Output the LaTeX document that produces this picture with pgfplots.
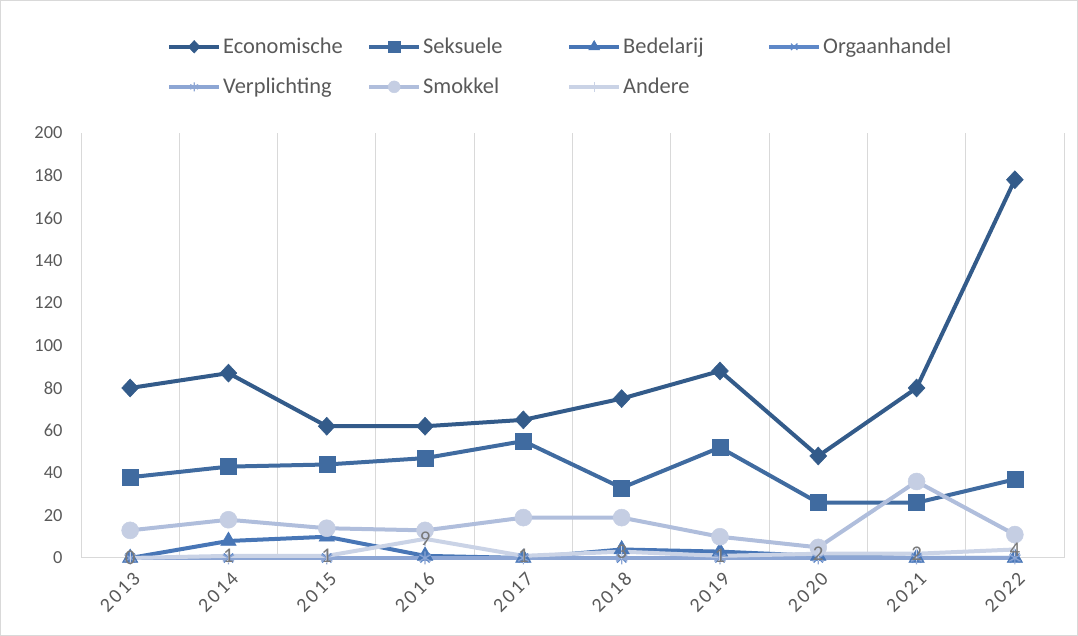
\documentclass[border=0pt]{standalone}
\usepackage{pgfplots}
\pgfplotsset{compat=1.18}
\usepackage{fontspec}
\setmainfont{Carlito}
\newfontfamily\spaced[LetterSpace=12]{Carlito}
\definecolor{cEco}{HTML}{335B8A}
\definecolor{cSek}{HTML}{406BA0}
\definecolor{cBed}{HTML}{4876B6}
\definecolor{cOrg}{HTML}{5E88C8}
\definecolor{cVer}{HTML}{8DA6D4}
\definecolor{cSmo}{HTML}{B0BEDC}
\definecolor{cSmoF}{HTML}{C5CEE3}
\definecolor{cAnd}{HTML}{CAD3E6}
\definecolor{cGrid}{HTML}{D9D9D9}
\definecolor{cTxt}{HTML}{595959}
\begin{document}
\begin{tikzpicture}[x=1bp,y=1bp]
\useasboundingbox (0,0) rectangle (1078,636);
\draw[cGrid,line width=0.8bp] (0.5,0.5) rectangle (1077.5,635.5);
\begin{axis}[
  at={(81bp,78bp)}, anchor=south west,
  scale only axis, width=983bp, height=425bp,
  xmin=-0.5, xmax=9.5, ymin=0, ymax=200,
  xtick={0,...,9},
  xticklabels={2013,2014,2015,2016,2017,2018,2019,2020,2021,2022},
  minor xtick={-0.5,0.5,...,9.5},
  xminorgrids, minor grid style={cGrid,line width=1bp},
  ytick={0,20,...,200},
  axis x line*=bottom, axis y line*=left,
  x axis line style={cGrid,line width=1bp,-},
  y axis line style={draw=none},
  major tick length=0pt, minor tick length=0pt,
  tick style={draw=none},
  /pgf/number format/assume math mode=true,
  yticklabel style={font=\fontsize{18.5}{20}\selectfont, text=cTxt, anchor=east, xshift=-15bp},
  xticklabel style={font=\spaced\fontsize{20}{22}\selectfont, text=cTxt, xshift=9bp, yshift=-15bp, rotate=45, anchor=east},
  legend columns=4,
  legend style={at={(0.0875,1.228)}, anchor=north west, draw=none, fill=none,
    font=\fontsize{22.5}{26}\selectfont, text=cTxt,
    /tikz/every even column/.append style={column sep=0pt},
    row sep=19bp, inner sep=0pt, cells={anchor=west}},
  legend image code/.code={
    \draw[#1,mark=none] (0bp,0bp) -- (50bp,0bp);
    \draw[#1,only marks,every mark/.append style={scale=0.7}] plot coordinates {(25bp,0bp)};
  },
  every axis plot/.append style={line width=4bp},
  clip=false,
]
\addplot[cEco, mark=diamond*, mark size=9bp, mark options={fill=cEco,line width=0.5bp,xscale=1.25}] coordinates {
(0,80)(1,87)(2,62)(3,62)(4,65)(5,75)(6,88)(7,48)(8,80)(9,178)};
\addlegendentry{\makebox[142bp][l]{Economische}}
\addplot[cSek, mark=square*, mark size=8bp, mark options={fill=cSek,line width=0.5bp}] coordinates {
(0,38)(1,43)(2,44)(3,47)(4,55)(5,33)(6,52)(7,26)(8,26)(9,37)};
\addlegendentry{\makebox[142bp][l]{Seksuele}}
\addplot[cBed, mark=triangle*, mark size=9bp, mark options={fill=cBed,line width=0.5bp}] coordinates {
(0,0)(1,8)(2,10)(3,1)(4,0)(5,4)(6,3)(7,1)(8,0)(9,0)};
\addlegendentry{\makebox[142bp][l]{Bedelarij}}
\addplot[cOrg, mark=x, mark size=6.5bp, mark options={line width=1.2bp}] coordinates {
(0,0)(1,0)(2,0)(3,0)(4,0)(5,0)(6,0)(7,0)(8,0)(9,0)};
\addlegendentry{\makebox[142bp][l]{Orgaanhandel}}
\addplot[cVer, mark=asterisk, mark size=6.5bp, mark options={line width=1.2bp}] coordinates {
(0,0)(1,0)(2,0)(3,0)(4,0)(5,0)(6,0)(7,0)(8,0)(9,0)};
\addlegendentry{\makebox[142bp][l]{Verplichting}}
\addplot[cSmo, mark=*, mark size=8.5bp, mark options={fill=cSmoF,draw=cSmoF,line width=0.5bp}] coordinates {
(0,13)(1,18)(2,14)(3,13)(4,19)(5,19)(6,10)(7,5)(8,36)(9,11)};
\addlegendentry{\makebox[142bp][l]{Smokkel}}
\addplot[cAnd, mark=|, mark size=7bp, mark options={line width=1.2bp},
  nodes near coords, point meta=explicit symbolic,
  every node near coord/.append style={anchor=center, yshift=0bp, text=gray!95!black, font=\fontsize{21}{24}\selectfont}] coordinates {
(0,0)[0](1,1)[1](2,1)[1](3,9)[9](4,1)[1](5,3)[3](6,1)[1](7,2)[2](8,2)[2](9,4)[4]};
\addlegendentry{\makebox[142bp][l]{Andere}}
\end{axis}
\end{tikzpicture}
\end{document}
